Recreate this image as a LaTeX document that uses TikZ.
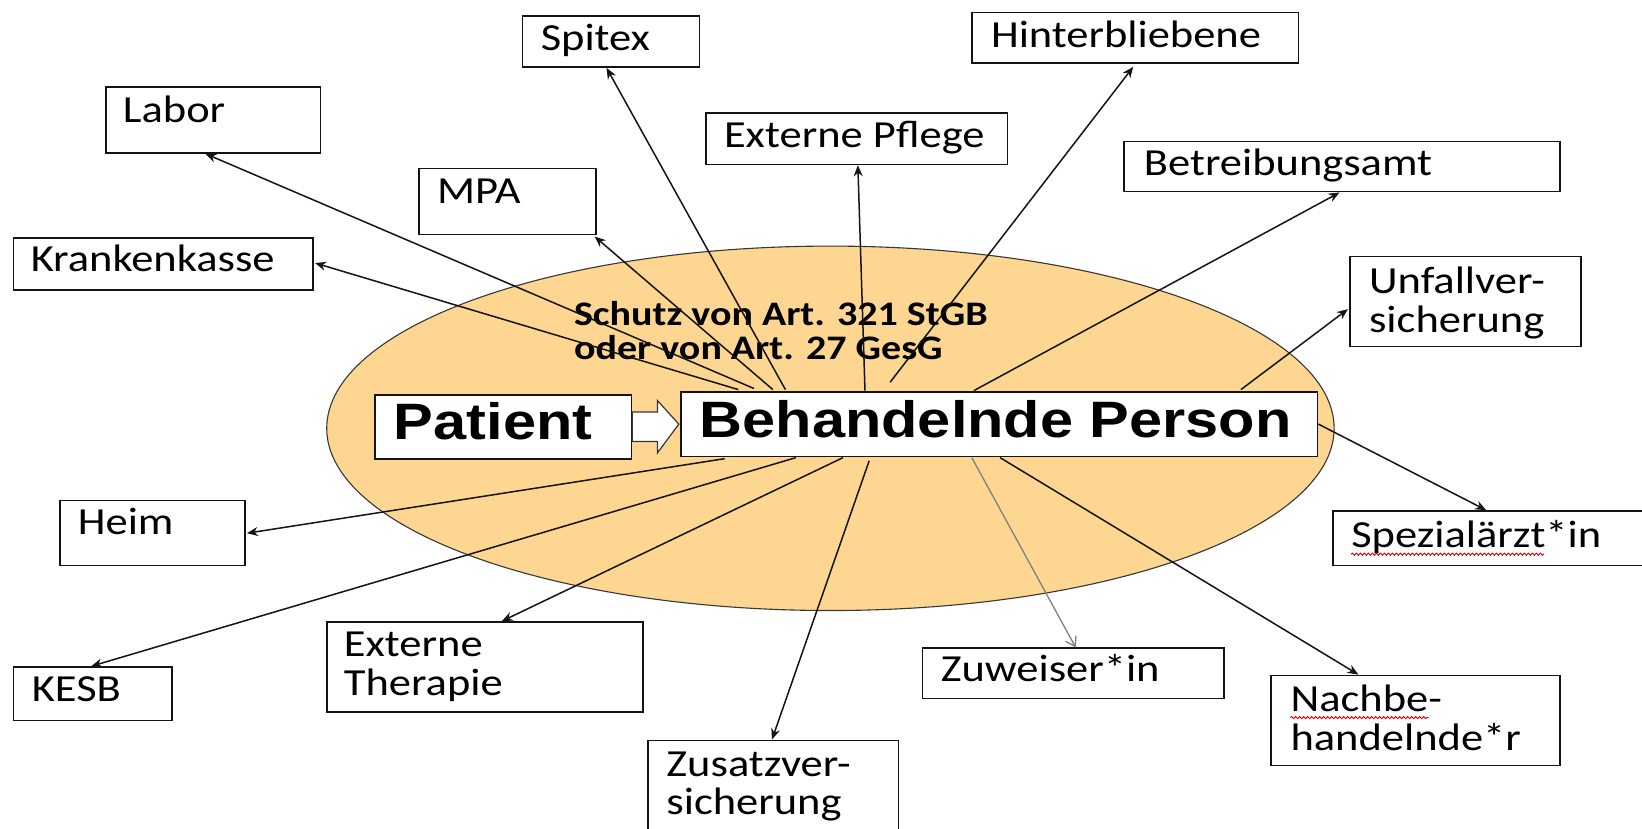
\documentclass[tikz,border=0pt]{standalone}
\usepackage{fontspec}
\usepackage{graphicx}
\setmainfont{Carlito}
\newfontfamily\arialfont{Liberation Sans}
\usetikzlibrary{calc,fit,arrows.meta,decorations.pathmorphing}
\definecolor{ovalfill}{RGB}{253,214,146}
\definecolor{linecol}{RGB}{20,20,20}
\newcommand\T[1]{\scalebox{1}[0.86]{\begin{tabular}[t]{@{}l@{}}#1\end{tabular}}}
\begin{document}
\begin{tikzpicture}[x=1.0472pt,y=-1.0472pt,
  box/.style={draw=linecol, line width=1.7pt, fill=white, inner sep=0pt},
  txt/.style={inner sep=0pt, anchor=base west, font=\fontsize{44.5}{45}\selectfont},
  big/.style={inner sep=0pt, anchor=base west, font=\arialfont\bfseries\fontsize{59.5}{60}\selectfont},
  arr/.style={draw=linecol, line width=1.5pt, -{Stealth[length=11pt,width=9pt]}},
  garr/.style={draw=gray, line width=1.3pt, -{Straight Barb[length=9pt,width=12pt]}},
  squig/.style={draw=red!85!black, line width=0.9pt, decorate, decoration={snake, amplitude=1.1pt, segment length=4pt}}
]
\useasboundingbox (0,0) rectangle (1568,791);
\fill[white] (0,0) rectangle (1568,791);

% oval
\draw[fill=ovalfill, draw=linecol!85, line width=1.1pt] (793,409) ellipse [x radius=481, y radius=174];

% protection text
\node[inner sep=0pt, anchor=base west, font=\bfseries\fontsize{40}{38}\selectfont] (schutz) at (548,311)
  {\T{Schutz von Art. 321 StGB\\oder von Art. 27 GesG}};

% outer boxes
\node[box, fit={(499,15) (668,64)}] (spitex) {};
\node[box, fit={(928,12) (1240,60)}] (hinter) {};
\node[box, fit={(101,83) (306,146)}] (labor) {};
\node[box, fit={(674,108) (962,157)}] (pflege) {};
\node[box, fit={(1073,135) (1490,183)}] (betr) {};
\node[box, fit={(400,161) (569,224)}] (mpa) {};
\node[box, fit={(13,227) (299,277)}] (kk) {};
\node[box, fit={(1289,245) (1510,331)}] (unfall) {};
\node[box, fit={(57,478) (234,540)}] (heim) {};
\node[box, fit={(1273,488) (1572,540)}] (spez) {};
\node[box, fit={(13,637) (164,688)}] (kesb) {};
\node[box, fit={(312,594) (614,680)}] (ther) {};
\node[box, fit={(881,619) (1169,667)}] (zuw) {};
\node[box, fit={(1214,645) (1490,731)}] (nach) {};
\node[box, fit={(619,707) (858,798)}] (zus) {};

% texts
\node[txt] (spitex-t) at ($(spitex.north west)+(18,34)$) {\T{Spitex}};
\node[txt] (hinter-t) at ($(hinter.north west)+(19,34)$) {\T{Hinterbliebene}};
\node[txt] (labor-t) at ($(labor.north west)+(17,35)$) {\T{Labor}};
\node[txt] (pflege-t) at ($(pflege.north west)+(18,34)$) {\T{Externe Pflege}};
\node[txt] (betr-t) at ($(betr.north west)+(20,33)$) {\T{Betreibungsamt}};
\node[txt] (mpa-t) at ($(mpa.north west)+(18,34)$) {\T{MPA}};
\node[txt] (kk-t) at ($(kk.north west)+(17,33)$) {\T{Krankenkasse}};
\node[txt] (unfall-t) at ($(unfall.north west)+(19,36)$) {\T{Unfallver-\\sicherung}};
\node[txt] (heim-t) at ($(heim.north west)+(18,33)$) {\T{Heim}};
\node[txt] (spez-t) at ($(spez.north west)+(18,36)$) {\T{Spezialärzt*in}};
\node[txt] (kesb-t) at ($(kesb.north west)+(18,34)$) {\T{KESB}};
\node[txt] (ther-t) at ($(ther.north west)+(17,34)$) {\T{Externe\\Therapie}};
\node[txt] (zuw-t) at ($(zuw.north west)+(18,33)$) {\T{Zuweiser*in}};
\node[txt] (nach-t) at ($(nach.north west)+(19,35)$) {\T{Nachbe-\\handelnde*r}};
\node[txt] (zus-t) at ($(zus.north west)+(18,35)$) {\T{Zusatzver-\\sicherung}};

% spell-check underlines
\draw[squig] ($(spez-t.base west)+(0,6)$) -- ++(184,0);
\draw[squig] ($(nach-t.base west)+(0,6)$) -- ++(132,0);

% central boxes
\node[box, fit={(358,377) (603,438)}] (patient) {};
\node[box, fit={(650,374) (1258,436)}] (bp) {};
\node[big] (patient-t) at (376,420) {\scalebox{1}[0.86]{Patient}};
\node[big] (bp-t) at (668,418) {\scalebox{1}[0.86]{Behandelnde Person}};

% block arrow patient -> bp
\draw[fill=white, draw=linecol!85, line width=1.2pt]
  ($(patient.east)+(0,-14)$) -- ++(24,0) -- ++(0,-11) -- ($(bp.west)+(-1,0)$)
  -- ($(patient.east)+(24,25)$) -- ++(0,-11) -- ($(patient.east)+(0,14)$) -- cycle;

% start points
\coordinate (sKK) at (705,372);
\coordinate (sLabor) at (720,371);
\coordinate (sMPA) at (738,372);
\coordinate (sSpitex) at (750,372);
\coordinate (sPflege) at (826,373);
\coordinate (sHinter) at (850,365);
\coordinate (sBetr) at (930,373);
\coordinate (sUnf) at (1185,372);
\coordinate (sSpez) at (1259,405);
\coordinate (sNach) at (955,437);
\coordinate (sZuw) at (928,437);
\coordinate (sZus) at (830,440);
\coordinate (sTher) at (805,437);
\coordinate (sKesb) at (760,437);
\coordinate (sHeim) at (692,438);

% connectors
\draw[arr] (sLabor) -- ($(labor.south west)+(96,0)$);
\draw[arr] (sKK) -- ($(kk.north east)+(1,25)$);
\draw[arr] (sMPA) -- ($(mpa.south east)+(-2,1)$);
\draw[arr] (sSpitex) -- ($(spitex.south west)+(81,0)$);
\draw[arr] (sPflege) -- ($(pflege.south west)+(146,0)$);
\draw[arr] (sHinter) -- ($(hinter.south west)+(155,3)$);
\draw[arr] (sBetr) -- ($(betr.south west)+(207,0)$);
\draw[arr] (sUnf) -- ($(unfall.north west)+(-1,51)$);
\draw[arr] (sSpez) -- ($(spez.north west)+(147,0)$);
\draw[arr] (sNach) -- ($(nach.north west)+(84,0)$);
\draw[garr] (sZuw) -- ($(zuw.north west)+(147,0)$);
\draw[arr] (sZus) -- ($(zus.north west)+(119,0)$);
\draw[arr] (sTher) -- ($(ther.north west)+(168,0)$);
\draw[arr] (sKesb) -- ($(kesb.north west)+(75,0)$);
\draw[arr] (sHeim) -- ($(heim.north east)+(1,32)$);
\end{tikzpicture}
\end{document}
